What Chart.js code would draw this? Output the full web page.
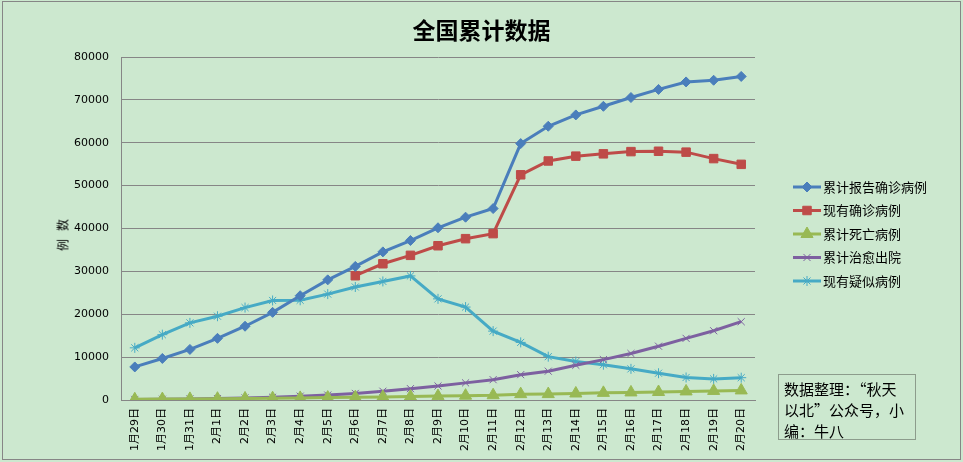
<!DOCTYPE html>
<html>
<head>
<meta charset="utf-8">
<script src="https://cdn.jsdelivr.net/npm/chart.js@4.4.1/dist/chart.umd.min.js"></script>
<style>
    body { margin: 0; background: #fff; }
    .wrap { position: relative; width: 963px; height: 462px; background: #cce8cf; overflow: hidden; }
    .frame { position: absolute; left: 2px; top: 1px; width: 957px; height: 457px; border: 1px solid #868686; }
    canvas { position: absolute; left: 0; top: 0; }
    .titulo { position: absolute; left: 0; width: 963px; top: 12px; text-align: center;
        font: bold 23px "Noto Sans CJK SC", sans-serif; color: #000; }
    .ytitulo { position: absolute; left: 62px; top: 235px; transform: translate(-50%, -50%) rotate(-90deg);
        font: 12px "Noto Sans CJK SC", sans-serif; color: #000; white-space: nowrap; }
    .nota { position: absolute; left: 778px; top: 374px; width: 126px; height: 58px; border: 1px solid #8c9c8c;
        padding: 3px 5px; font: 15px/21px "Noto Sans CJK SC", sans-serif; color: #000; }
</style>
</head>
<body>
<div class="wrap">
    <div class="frame"></div>
    <canvas id="chart" width="963" height="462"></canvas>
    <div class="titulo">全国累计数据</div>
    <div class="ytitulo">例&nbsp;&nbsp;&nbsp;数</div>
    <div class="nota">数据整理：“秋天以北”公众号，小编：牛八</div>
</div>
<script>
const fechas = ['1月29日','1月30日','1月31日','2月1日','2月2日','2月3日','2月4日','2月5日','2月6日','2月7日','2月8日','2月9日',
    '2月10日','2月11日','2月12日','2月13日','2月14日','2月15日','2月16日','2月17日','2月18日','2月19日','2月20日'];

const acumulados = [7711, 9692, 11791, 14380, 17205, 20438, 24324, 28018, 31161, 34546, 37198, 40171,
    42638, 44653, 59804, 63851, 66492, 68500, 70548, 72436, 74185, 74576, 75465];
const actuales = [null, null, null, null, null, null, null, null, 28985, 31774, 33738, 35982,
    37626, 38800, 52526, 55748, 56873, 57416, 57934, 58016, 57805, 56303, 54965];
const muertes = [170, 213, 259, 304, 361, 425, 490, 563, 636, 722, 811, 908,
    1016, 1113, 1367, 1380, 1523, 1665, 1770, 1868, 2004, 2118, 2236];
const curados = [124, 171, 243, 328, 475, 632, 892, 1153, 1540, 2050, 2649, 3281,
    3996, 4740, 5911, 6723, 8096, 9419, 10844, 12552, 14376, 16155, 18264];
const sospechosos = [12167, 15238, 17988, 19544, 21558, 23214, 23260, 24702, 26359, 27657, 28942, 23589,
    21675, 16067, 13435, 10109, 8969, 8228, 7264, 6242, 5248, 4922, 5206];

const nombres = ['累计报告确诊病例', '现有确诊病例', '累计死亡病例', '累计治愈出院', '现有疑似病例'];
const yTicks = [0, 10000, 20000, 30000, 40000, 50000, 60000, 70000, 80000];

function serie(label, data, color, estilo, radio) {
    return {
        label, data,
        borderColor: color,
        backgroundColor: color,
        pointBackgroundColor: color,
        pointBorderColor: color,
        borderWidth: 3,
        pointStyle: estilo,
        pointRadius: radio,
        pointBorderWidth: 1,
        tension: 0,
        spanGaps: false
    };
}

// leyenda dibujada a mano: linea + marcador, como en Excel
const leyenda = {
    id: 'leyenda',
    afterDraw(chart) {
        const ctx = chart.ctx;
        chart.data.datasets.forEach((ds, i) => {
            const y = 187 + i * 23.5;
            ctx.save();
            ctx.strokeStyle = ds.borderColor;
            ctx.lineWidth = 3;
            ctx.beginPath();
            ctx.moveTo(793, y);
            ctx.lineTo(821, y);
            ctx.stroke();
            ctx.fillStyle = ds.borderColor;
            ctx.lineWidth = 1;
            Chart.helpers.drawPoint(ctx, {
                pointStyle: ds.pointStyle,
                radius: ds.pointRadius,
                borderWidth: 1,
                rotation: 0
            }, 807, y);
            ctx.fillStyle = '#000';
            ctx.font = '13px "Noto Sans CJK SC", sans-serif';
            ctx.textBaseline = 'middle';
            ctx.fillText(ds.label, 823, y);
            ctx.restore();
        });
    }
};

new Chart(document.getElementById('chart'), {
    type: 'line',
    data: {
        labels: fechas,
        datasets: [
            serie(nombres[0], acumulados, '#4a7ebb', 'rectRot', 5),
            serie(nombres[1], actuales, '#be4b48', 'rect', 6),
            serie(nombres[2], muertes, '#98b954', 'triangle', 7),
            serie(nombres[3], curados, '#7d60a0', 'crossRot', 5),
            serie(nombres[4], sospechosos, '#46aac5', 'star', 5)
        ]
    },
    options: {
        responsive: false,
        animation: false,
        layout: { padding: { top: 57, right: 208, left: 0, bottom: 0 } },
        plugins: {
            legend: { display: false },
            tooltip: { enabled: false }
        },
        scales: {
            x: {
                offset: true,
                grid: { display: false, drawTicks: false },
                border: { display: true, color: '#868686', width: 1 },
                ticks: {
                    color: '#000',
                    font: { family: '"DejaVu Sans", "Noto Sans CJK SC"', size: 11 },
                    maxRotation: 90, minRotation: 90,
                    autoSkip: false,
                    padding: 8
                },
                afterFit(scale) { scale.height = 62; }
            },
            y: {
                min: 0, max: 80000,
                afterBuildTicks(scale) { scale.ticks = yTicks.map(v => ({ value: v })); },
                grid: { color: '#868686', lineWidth: 1, drawTicks: false },
                border: { display: true, color: '#868686', width: 1 },
                ticks: {
                    color: '#000',
                    font: { family: '"DejaVu Sans"', size: 11 },
                    padding: 12,
                    callback: v => String(v)
                },
                afterFit(scale) { scale.width = 121; }
            }
        }
    },
    plugins: [leyenda]
});
</script>
</body>
</html>
